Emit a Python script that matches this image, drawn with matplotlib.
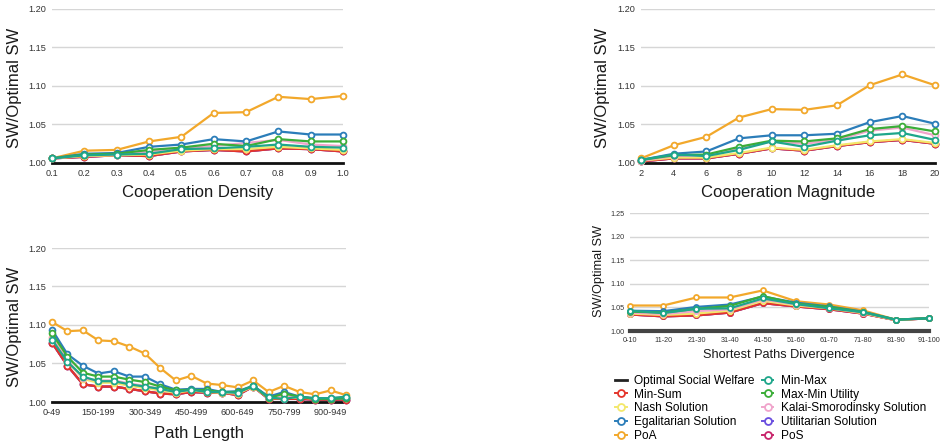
import matplotlib
matplotlib.use("Agg")
import matplotlib.pyplot as plt
from matplotlib.lines import Line2D

plt.rcParams["font.family"] = ["Liberation Sans", "DejaVu Sans"]

# ---------------------------------------------------------------------------
# Data
# ---------------------------------------------------------------------------

SERIES = ["Min-Sum", "Nash Solution", "Egalitarian Solution", "PoA",
          "Min-Max", "Max-Min Utility", "Kalai-Smorodinsky Solution",
          "Utilitarian Solution", "PoS"]

COLORS = {
    "Min-Sum": "#e4352b",
    "Nash Solution": "#f3e86c",
    "Egalitarian Solution": "#2b7db9",
    "PoA": "#f2a82b",
    "Min-Max": "#1ea68a",
    "Max-Min Utility": "#3bad38",
    "Kalai-Smorodinsky Solution": "#f0a4cb",
    "Utilitarian Solution": "#6a4fdf",
    "PoS": "#c8256b",
}

# draw order (last on top)
DRAW_ORDER = ["PoS", "Utilitarian Solution", "Min-Sum", "Nash Solution",
              "Kalai-Smorodinsky Solution", "PoA", "Egalitarian Solution",
              "Max-Min Utility", "Min-Max"]

# Cooperation Density
density_x = [0.1, 0.2, 0.3, 0.4, 0.5, 0.6, 0.7, 0.8, 0.9, 1.0]
density = {
    "Min-Sum":      [1.006, 1.008, 1.010, 1.009, 1.015, 1.017, 1.015, 1.019, 1.018, 1.015],
    "Nash Solution": [1.006, 1.009, 1.010, 1.011, 1.016, 1.018, 1.018, 1.021, 1.019, 1.017],
    "Egalitarian Solution": [1.006, 1.012, 1.013, 1.021, 1.024, 1.031, 1.028, 1.041, 1.037, 1.037],
    "PoA":          [1.006, 1.016, 1.017, 1.028, 1.034, 1.065, 1.066, 1.086, 1.083, 1.087],
    "Min-Max":      [1.006, 1.010, 1.011, 1.012, 1.018, 1.019, 1.021, 1.024, 1.021, 1.020],
    "Max-Min Utility": [1.006, 1.011, 1.012, 1.017, 1.020, 1.025, 1.022, 1.031, 1.028, 1.028],
    "Kalai-Smorodinsky Solution": [1.006, 1.010, 1.011, 1.015, 1.019, 1.022, 1.026, 1.030, 1.024, 1.022],
    "Utilitarian Solution": [1.006, 1.008, 1.010, 1.009, 1.015, 1.017, 1.015, 1.019, 1.018, 1.015],
    "PoS":          [1.006, 1.008, 1.010, 1.009, 1.015, 1.017, 1.015, 1.019, 1.018, 1.015],
}

# Cooperation Magnitude
magnitude_x = [2, 4, 6, 8, 10, 12, 14, 16, 18, 20]
magnitude = {
    "Min-Sum":      [1.002, 1.006, 1.006, 1.012, 1.019, 1.016, 1.022, 1.027, 1.030, 1.025],
    "Nash Solution": [1.003, 1.007, 1.007, 1.013, 1.020, 1.017, 1.023, 1.028, 1.031, 1.026],
    "Egalitarian Solution": [1.004, 1.012, 1.015, 1.032, 1.036, 1.036, 1.038, 1.053, 1.061, 1.051],
    "PoA":          [1.006, 1.023, 1.034, 1.059, 1.070, 1.069, 1.075, 1.101, 1.115, 1.101],
    "Min-Max":      [1.004, 1.011, 1.009, 1.017, 1.028, 1.021, 1.029, 1.036, 1.039, 1.030],
    "Max-Min Utility": [1.004, 1.010, 1.011, 1.021, 1.029, 1.028, 1.032, 1.044, 1.048, 1.041],
    "Kalai-Smorodinsky Solution": [1.003, 1.009, 1.010, 1.019, 1.028, 1.025, 1.030, 1.042, 1.046, 1.036],
    "Utilitarian Solution": [1.002, 1.006, 1.006, 1.012, 1.019, 1.016, 1.022, 1.027, 1.030, 1.025],
    "PoS":          [1.002, 1.006, 1.006, 1.012, 1.019, 1.016, 1.022, 1.027, 1.030, 1.025],
}

# Path Length
path_labels = ["0-49", "50-99", "100-149", "150-199", "200-249", "250-299",
               "300-349", "350-399", "400-449", "450-499", "500-549", "550-599",
               "600-649", "650-699", "700-749", "750-799", "800-849", "850-899",
               "900-949", "950-999"]
path = {
    "Min-Sum": [1.077, 1.047, 1.023, 1.020, 1.020, 1.017, 1.014, 1.011, 1.010, 1.013,
                1.012, 1.012, 1.009, 1.020, 1.004, 1.004, 1.004, 1.003, 1.003, 1.003],
    "Nash Solution": [1.085, 1.053, 1.030, 1.025, 1.025, 1.021, 1.018, 1.015, 1.012, 1.015,
                      1.013, 1.012, 1.011, 1.020, 1.005, 1.005, 1.006, 1.004, 1.004, 1.005],
    "Egalitarian Solution": [1.094, 1.062, 1.047, 1.037, 1.040, 1.033, 1.033, 1.023, 1.016, 1.017,
                             1.017, 1.013, 1.014, 1.021, 1.007, 1.013, 1.007, 1.004, 1.004, 1.005],
    "PoA": [1.104, 1.092, 1.093, 1.080, 1.079, 1.072, 1.063, 1.044, 1.028, 1.034,
            1.024, 1.022, 1.019, 1.028, 1.013, 1.021, 1.013, 1.010, 1.015, 1.009],
    "Min-Max": [1.081, 1.052, 1.033, 1.027, 1.027, 1.023, 1.020, 1.017, 1.013, 1.016,
                1.013, 1.013, 1.012, 1.021, 1.006, 1.004, 1.007, 1.005, 1.005, 1.007],
    "Max-Min Utility": [1.089, 1.059, 1.038, 1.033, 1.033, 1.029, 1.026, 1.020, 1.015, 1.016,
                        1.015, 1.013, 1.013, 1.021, 1.005, 1.011, 1.007, 1.004, 1.004, 1.005],
    "Kalai-Smorodinsky Solution": [1.083, 1.054, 1.031, 1.028, 1.028, 1.024, 1.021, 1.017, 1.013, 1.016,
                                   1.014, 1.013, 1.012, 1.021, 1.006, 1.008, 1.007, 1.005, 1.005, 1.006],
    "Utilitarian Solution": [1.077, 1.047, 1.023, 1.020, 1.020, 1.017, 1.014, 1.011, 1.010, 1.013,
                             1.012, 1.012, 1.009, 1.020, 1.004, 1.004, 1.004, 1.003, 1.003, 1.003],
    "PoS": [1.077, 1.047, 1.023, 1.020, 1.020, 1.017, 1.014, 1.011, 1.010, 1.013,
            1.012, 1.012, 1.009, 1.020, 1.004, 1.004, 1.004, 1.003, 1.003, 1.003],
}

# Shortest Paths Divergence
div_labels = ["0-10", "11-20", "21-30", "31-40", "41-50", "51-60",
              "61-70", "71-80", "81-90", "91-100"]
divergence = {
    "Min-Sum":      [1.035, 1.031, 1.033, 1.039, 1.059, 1.052, 1.046, 1.037, 1.023, 1.027],
    "Nash Solution": [1.037, 1.034, 1.037, 1.043, 1.064, 1.054, 1.048, 1.038, 1.023, 1.027],
    "Egalitarian Solution": [1.043, 1.042, 1.051, 1.056, 1.073, 1.060, 1.052, 1.041, 1.024, 1.027],
    "PoA":          [1.054, 1.054, 1.071, 1.071, 1.086, 1.063, 1.056, 1.044, 1.024, 1.027],
    "Min-Max":      [1.043, 1.038, 1.047, 1.048, 1.069, 1.057, 1.048, 1.040, 1.024, 1.027],
    "Max-Min Utility": [1.041, 1.039, 1.047, 1.053, 1.074, 1.058, 1.051, 1.040, 1.024, 1.027],
    "Kalai-Smorodinsky Solution": [1.039, 1.036, 1.042, 1.046, 1.067, 1.056, 1.049, 1.039, 1.024, 1.027],
    "Utilitarian Solution": [1.035, 1.031, 1.033, 1.039, 1.059, 1.052, 1.046, 1.037, 1.023, 1.027],
    "PoS":          [1.035, 1.031, 1.033, 1.039, 1.059, 1.052, 1.046, 1.037, 1.023, 1.027],
}

W, H = 946, 448


def px_axes(fig, left, right, top, bottom):
    return fig.add_axes([left / W, 1 - bottom / H, (right - left) / W, (bottom - top) / H])


def px_text(fig, x, y, s, size, rotation=0):
    fig.text(x / W, 1 - y / H, s, fontsize=size, color="#1a1a1a",
             ha="center", va="center", rotation=rotation)


def draw_panel(ax, x, data, yticks, tick_fs, small=False):
    ax.set_ylim(yticks[0], yticks[-1])
    ax.set_xlim(x[0], x[-1])
    for yt in yticks[1:]:
        ax.axhline(yt, color="#d6d6d6", linewidth=1.0, zorder=0)
    if small:
        ax.axhline(1.0, color="#444444", linewidth=3, zorder=1, clip_on=False)
    else:
        ax.axhline(1.0, color="#111111", linewidth=2, zorder=1, clip_on=False)
    for i, name in enumerate(DRAW_ORDER):
        ax.plot(x, data[name], color=COLORS[name], linewidth=1.6,
                marker="o", markersize=4.2 if not small else 3.6,
                markerfacecolor="white", markeredgewidth=1.3,
                markeredgecolor=COLORS[name], zorder=2 + i, clip_on=False)
    ax.set_yticks(yticks)
    ax.set_yticklabels([f"{v:.2f}" for v in yticks])
    for s in ax.spines.values():
        s.set_visible(False)
    ax.tick_params(length=0, labelsize=tick_fs, colors="#333333", pad=4)


fig = plt.figure(figsize=(W / 100, H / 100), dpi=100)

yt_main = [1.00, 1.05, 1.10, 1.15, 1.20]

ax1 = px_axes(fig, 52, 343, 9, 163)
draw_panel(ax1, density_x, density, yt_main, 6.6)
ax1.set_xticks(density_x)
ax1.set_xticklabels([f"{v:.1f}" for v in density_x])
px_text(fig, 198, 193, "Cooperation Density", 12)
px_text(fig, 14, 88, "SW/Optimal SW", 12, rotation=90)

ax2 = px_axes(fig, 641, 935, 9, 163)
draw_panel(ax2, magnitude_x, magnitude, yt_main, 6.6)
ax2.set_xticks(magnitude_x)
px_text(fig, 788, 193, "Cooperation Magnitude", 12)
px_text(fig, 602, 88, "SW/Optimal SW", 12, rotation=90)

ax3 = px_axes(fig, 52, 346, 248, 402)
pos = list(range(len(path_labels)))
draw_panel(ax3, pos, path, yt_main, 6.6)
ax3.set_xticks(pos[::3])
ax3.set_xticklabels(path_labels[::3])
px_text(fig, 199, 433, "Path Length", 12)
px_text(fig, 14, 327, "SW/Optimal SW", 12, rotation=90)

ax4 = px_axes(fig, 630, 929, 213, 331)
pos4 = list(range(len(div_labels)))
draw_panel(ax4, pos4, divergence, [1.00, 1.05, 1.10, 1.15, 1.20, 1.25], 5.2, small=True)
ax4.set_xticks(pos4)
ax4.set_xticklabels(div_labels)
px_text(fig, 779, 355, "Shortest Paths Divergence", 9.2)
px_text(fig, 599, 271, "SW/Optimal SW", 9.2, rotation=90)

# Legend
handles = [Line2D([], [], color="#222222", linewidth=2)]
for name in SERIES:
    handles.append(Line2D([], [], color=COLORS[name], linewidth=1.4, marker="o",
                          markersize=5, markerfacecolor="white",
                          markeredgewidth=1.3))
labels = ["Optimal Social Welfare"] + SERIES
fig.legend(handles, labels, ncol=2, loc="upper left",
           bbox_to_anchor=(604 / W, 1 - 364 / H), frameon=False,
           fontsize=8.6, handlelength=1.0, handletextpad=0.6,
           labelspacing=0.15, columnspacing=0.6)

fig.savefig("out.png", dpi=100)
